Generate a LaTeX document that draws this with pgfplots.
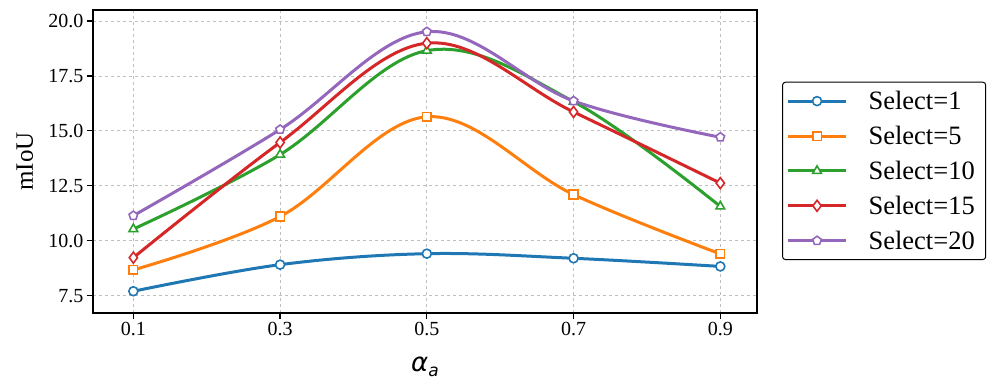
\documentclass[border=0pt]{standalone}
\usepackage{pgfplots}
\pgfplotsset{compat=1.18}
\usepackage{fontspec}
\setmainfont{Liberation Serif}
\newfontfamily\dejavu{DejaVu Sans}
\usetikzlibrary{plotmarks}
\definecolor{c1}{HTML}{1F77B4}
\definecolor{c2}{HTML}{FF7F0E}
\definecolor{c3}{HTML}{2CA02C}
\definecolor{c4}{HTML}{D62728}
\definecolor{c5}{HTML}{9467BD}
\begin{document}
\begin{tikzpicture}[x=1pt,y=1pt]
\useasboundingbox (0,0) rectangle (997,389);
\begin{axis}[
  at={(93pt,76pt)}, anchor=south west,
  width=664pt, height=303pt, scale only axis,
  xmin=0.045, xmax=0.95, ymin=6.71, ymax=20.5,
  xtick={0.1,0.3,0.5,0.7,0.9}, xticklabels={0.1,0.3,0.5,0.7,0.9},
  ytick={7.5,10,12.5,15,17.5,20},
  yticklabel style={/pgf/number format/.cd, fixed, fixed zerofill, precision=1},
  /pgf/number format/assume math mode=true,
  tick label style={font=\fontsize{20}{22}\selectfont, black},
  xtick pos=bottom, ytick pos=left,
  tick align=outside, major tick length=6pt,
  tick style={line width=1.3pt, black},
  axis line style={line width=1.6pt},
  grid=major, major grid style={dashed, black!25, line width=0.8pt},
  ylabel={mIoU},
  ylabel style={at={(axis description cs:-0.09,0.5)}, anchor=south, inner sep=0pt, font=\fontsize{25}{28}\selectfont},
  xlabel={{\dejavu\itshape α\raisebox{-0.35ex}{\fontsize{17}{18}\selectfont a}}},
  xlabel style={at={(axis description cs:0.5,-0.145)}, anchor=north, inner sep=0pt, font=\fontsize{26}{28}\selectfont},
  legend cell align=left,
  legend style={at={(1.0377,0.469)}, anchor=west, draw=black, line width=1pt,
    rounded corners=3pt, font=\fontsize{26.5}{29}\selectfont, row sep=11pt,
    inner xsep=4pt, inner ysep=7pt,
    /tikz/every odd column/.append style={column sep=19pt}},
  legend image code/.code={\draw[mark repeat=2,mark phase=2,#1] plot coordinates {(0pt,0pt) (29pt,0pt) (58pt,0pt)};},
]
\addplot[c1, line width=3pt, smooth, tension=0.6, mark=*, mark size=4.5pt, mark options={fill=white, line width=1.6pt}] coordinates {
(0.1,7.70) (0.3,8.91) (0.5,9.41) (0.7,9.20) (0.9,8.83)};
\addlegendentry{Select=1\hspace*{5pt}}
\addplot[c2, line width=3pt, smooth, tension=0.6, mark=square*, mark size=4.3pt, mark options={fill=white, line width=1.6pt}] coordinates {
(0.1,8.67) (0.3,11.10) (0.5,15.64) (0.7,12.10) (0.9,9.40)};
\addlegendentry{Select=5}
\addplot[c3, line width=3pt, smooth, tension=0.6, mark=triangle*, mark size=5pt, mark options={fill=white, line width=1.6pt}] coordinates {
(0.1,10.53) (0.3,13.92) (0.5,18.65) (0.7,16.33) (0.9,11.56)};
\addlegendentry{Select=10\hspace*{5pt}}
\addplot[c4, line width=3pt, smooth, tension=0.6, mark=diamond*, mark size=5.5pt, mark options={fill=white, line width=1.6pt}] coordinates {
(0.1,9.23) (0.3,14.47) (0.5,18.99) (0.7,15.86) (0.9,12.62)};
\addlegendentry{Select=15}
\addplot[c5, line width=3pt, smooth, tension=0.6, mark=pentagon*, mark size=4.5pt, mark options={fill=white, line width=1.6pt}] coordinates {
(0.1,11.14) (0.3,15.06) (0.5,19.51) (0.7,16.36) (0.9,14.71)};
\addlegendentry{Select=20\hspace*{5pt}}
\end{axis}
\end{tikzpicture}
\end{document}
